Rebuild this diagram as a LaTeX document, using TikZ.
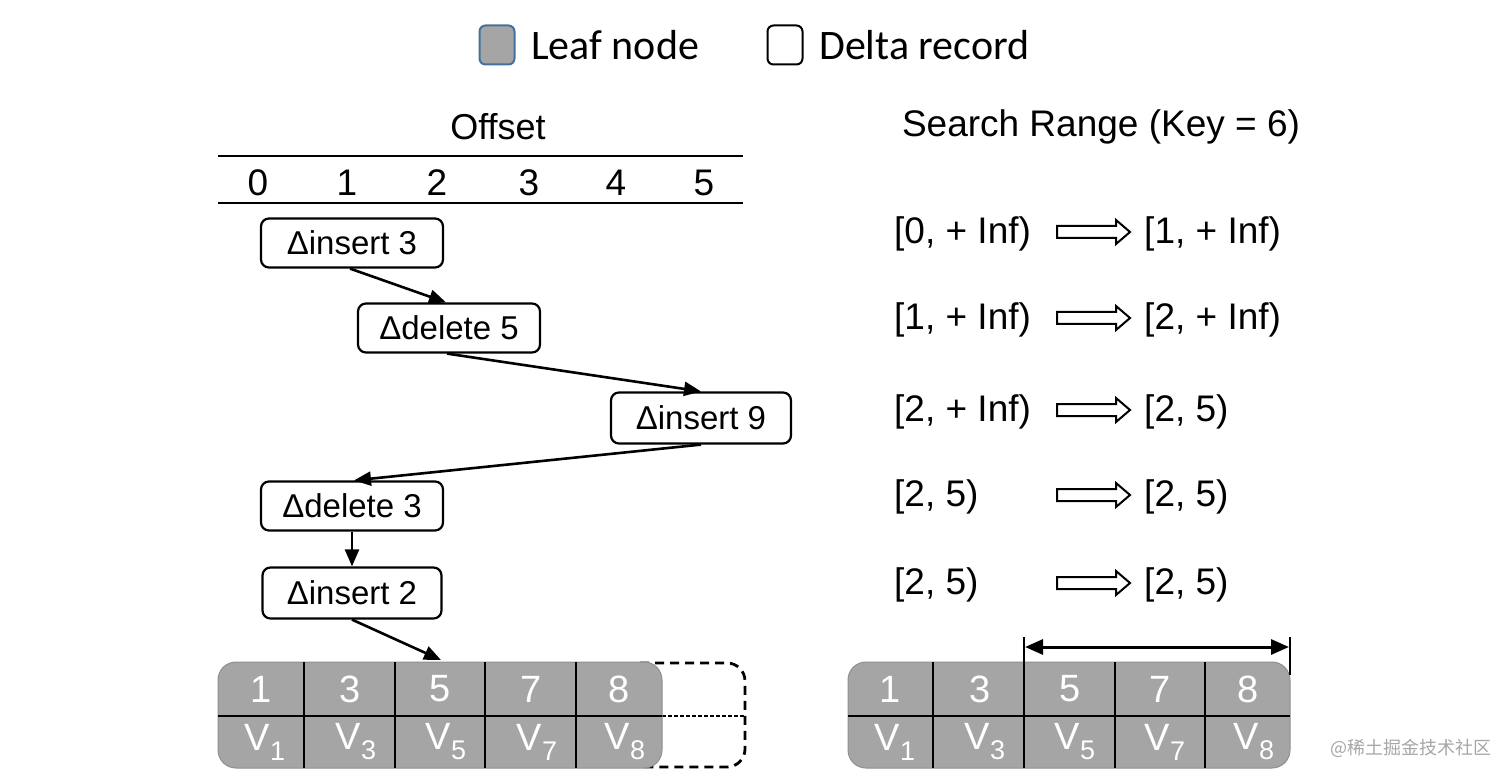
\documentclass[tikz,border=0pt]{standalone}
\usepackage{fontspec}
\setmainfont{Liberation Sans}
\newfontfamily\legendfont{Carlito}
\newfontfamily\cjkfont{Noto Sans CJK SC}
\usetikzlibrary{arrows.meta}
\definecolor{leafgray}{HTML}{A5A5A5}
\definecolor{leafedge}{HTML}{8F8F8F}
\definecolor{legendblue}{HTML}{41719C}
\newcommand{\Vsub}[1]{V\raisebox{-10pt}{\fontsize{27}{27}\selectfont #1}}
\begin{document}
\begin{tikzpicture}[x=1pt,y=-1pt,
  deltabox/.style={draw,line width=2.2pt,rounded corners=8pt,minimum width=182pt,minimum height=49pt,inner sep=0pt,font=\fontsize{33}{38}\selectfont},
  linkarrow/.style={-{Triangle[length=17pt,width=14pt]},line width=2.6pt},
  headtxt/.style={font=\fontsize{36}{42}\selectfont,inner sep=0pt},
  offnum/.style={font=\fontsize{37}{42}\selectfont,inner sep=0pt},
  rangetxt/.style={font=\fontsize{37}{44}\selectfont,inner sep=0pt,anchor=west},
  hollowarrow/.style={draw,line width=2pt,line join=miter},
  celltxt/.style={text=white,font=\fontsize{38}{42}\selectfont,inner sep=0pt},
  legtext/.style={font=\legendfont\fontsize{42}{48}\selectfont,anchor=west,inner sep=0pt},
  leafbox/.style={fill=leafgray,draw=leafedge,line width=1pt,rounded corners=18pt},
  divider/.style={line width=1.2pt,black}
]
\useasboundingbox (0,0) rectangle (1512,783);

% Legend
\node[fill=leafgray,draw=legendblue,line width=2pt,rounded corners=6pt,minimum width=35pt,minimum height=39pt] (legleaf) at (497,45) {};
\node[legtext] (legleaft) at (531,45) {Leaf node};
\node[fill=white,draw=black,line width=2pt,rounded corners=6pt,minimum width=35pt,minimum height=39pt] (legdelta) at (785,45) {};
\node[legtext] (legdeltat) at (819,45) {Delta record};

% Offset header
\node[headtxt] (offset) at (498,127) {Offset};
\coordinate (ola) at (218,156);
\coordinate (olb) at (743,156);
\coordinate (olc) at (218,203);
\coordinate (old) at (743,203);
\draw[line width=1.5pt] (ola) -- (olb);
\draw[line width=1.5pt] (olc) -- (old);
\node[offnum] (o0) at (258,183) {0};
\node[offnum] (o1) at (347,183) {1};
\node[offnum] (o2) at (437,183) {2};
\node[offnum] (o3) at (529,183) {3};
\node[offnum] (o4) at (616,183) {4};
\node[offnum] (o5) at (704,183) {5};

% Delta chain
\node[deltabox] (d1) at (352,243) {Δinsert 3};
\node[deltabox] (d2) at (449,328) {Δdelete 5};
\node[deltabox,minimum width=180pt,minimum height=51pt] (d3) at (701,418) {Δinsert 9};
\node[deltabox] (d4) at (352,506) {Δdelete 3};
\node[deltabox,minimum width=179pt,minimum height=51pt] (d5) at (352,593) {Δinsert 2};

% Left leaf
\draw[line width=2.8pt,rounded corners=18pt,dash pattern=on 9pt off 6pt] (640,663) -- (745,663) -- (745,767) -- (640,767);
\draw[line width=1.2pt,dash pattern=on 4pt off 2pt] (662,716) -- (745,716);
\draw[leafbox] (218,662) rectangle (662,768);
\draw[divider] (218,716) -- (662,716);
\foreach \x in {304,395,485,576} \draw[divider] (\x,662) -- (\x,768);
\node[celltxt] (la1) at (261,689) {1};
\node[celltxt] (la3) at (350,689) {3};
\node[celltxt] (la5) at (440,689) {5};
\node[celltxt] (la7) at (531,689) {7};
\node[celltxt] (la8) at (619,689) {8};
\node[celltxt] (lv1) at (265,742) {\Vsub{1}};
\node[celltxt] (lv3) at (356,742) {\Vsub{3}};
\node[celltxt] (lv5) at (446,742) {\Vsub{5}};
\node[celltxt] (lv7) at (537,742) {\Vsub{7}};
\node[celltxt] (lv8) at (625,742) {\Vsub{8}};
\coordinate (leaftop5) at (441,660);

% Links
\draw[linkarrow] ([xshift=-2pt]d1.south) -- ([xshift=-3pt]d2.north);
\draw[linkarrow] ([xshift=-2pt]d2.south) -- (d3.north);
\draw[linkarrow] (d3.south) -- ([xshift=2pt]d4.north);
\draw[linkarrow] (d4.south) -- (d5.north);
\draw[linkarrow] (d5.south) -- (leaftop5);

% Right side
\node[headtxt,font=\fontsize{37}{44}\selectfont] (search) at (1101,127) {Search Range (Key = 6)};
\foreach \i/\y/\a/\b in {1/232/{[0, + Inf)}/{[1, + Inf)},2/318/{[1, + Inf)}/{[2, + Inf)},3/410/{[2, + Inf)}/{[2, 5)},4/495/{[2, 5)}/{[2, 5)},5/583/{[2, 5)}/{[2, 5)}}{
  \node[rangetxt] (ra\i) at (894,\y+2) {\a};
  \draw[hollowarrow] (1057,\y-6) -- (1116,\y-6) -- (1116,\y-12) -- (1130,\y) -- (1116,\y+12) -- (1116,\y+6) -- (1057,\y+6) -- cycle;
  \node[rangetxt] (rb\i) at (1144,\y+2) {\b};
}

% Right leaf
\draw[leafbox] (848,662) rectangle (1290,768);
\draw[divider] (848,716) -- (1290,716);
\foreach \x in {933,1024,1115,1205} \draw[divider] (\x,662) -- (\x,768);
\node[celltxt] (ra1c) at (890,689) {1};
\node[celltxt] (ra3c) at (980,689) {3};
\node[celltxt] (ra5c) at (1070,689) {5};
\node[celltxt] (ra7c) at (1160,689) {7};
\node[celltxt] (ra8c) at (1248,689) {8};
\node[celltxt] (rv1) at (895,742) {\Vsub{1}};
\node[celltxt] (rv3) at (985,742) {\Vsub{3}};
\node[celltxt] (rv5) at (1075,742) {\Vsub{5}};
\node[celltxt] (rv7) at (1165,742) {\Vsub{7}};
\node[celltxt] (rv8) at (1254,742) {\Vsub{8}};
\coordinate (tla) at (1024,637);
\coordinate (tlb) at (1024,662);
\coordinate (tra) at (1290,637);
\coordinate (trb) at (1290,675);
\draw[line width=1.2pt] (tla) -- (tlb);
\draw[line width=1.2pt] (tra) -- (trb);
\coordinate (rla) at (1025,647);
\coordinate (rlb) at (1289,647);
\draw[{Triangle[length=18pt,width=15pt]}-{Triangle[length=18pt,width=15pt]},line width=3pt] (rla) -- (rlb);

% Watermark
\node[text=black!35,font=\cjkfont\fontsize{18}{20}\selectfont,inner sep=0pt] (wm) at (1411,748) {@稀土掘金技术社区};
\end{tikzpicture}
\end{document}
